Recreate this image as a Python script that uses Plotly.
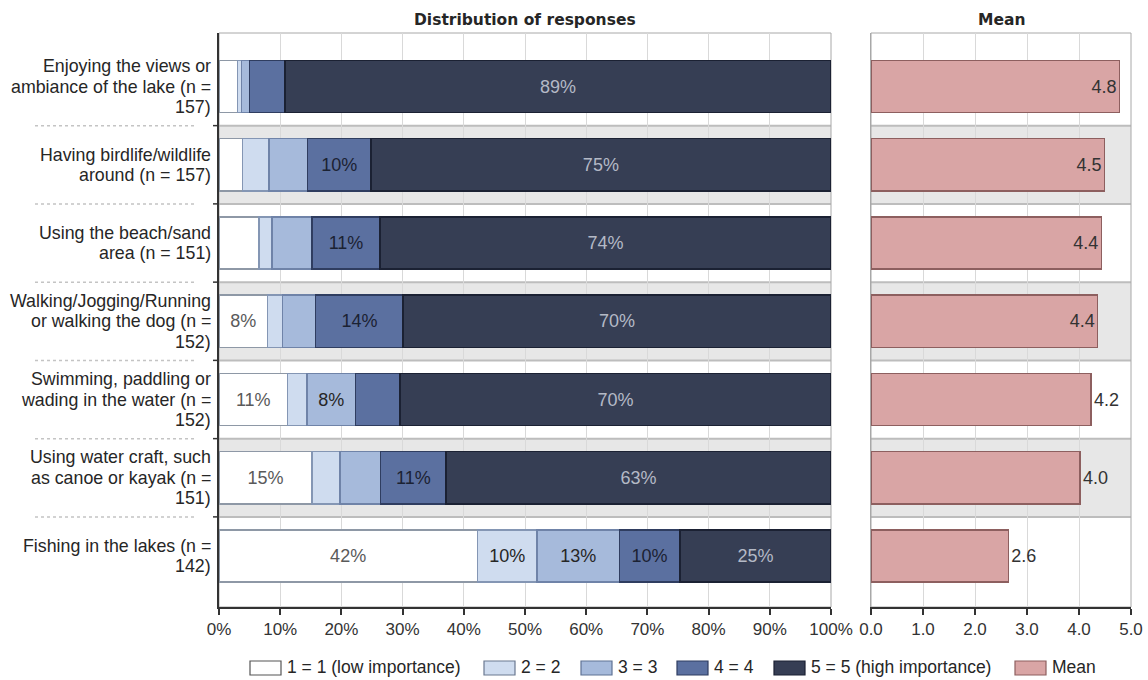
import plotly.graph_objects as go

W, H = 1148, 680

categories = [
    "Enjoying the views or<br>ambiance of the lake (n =<br>157)",
    "Having birdlife/wildlife<br>around (n = 157)",
    "Using the beach/sand<br>area (n = 151)",
    "Walking/Jogging/Running<br>or walking the dog (n =<br>152)",
    "Swimming, paddling or<br>wading in the water (n =<br>152)",
    "Using water craft, such<br>as canoe or kayak (n =<br>151)",
    "Fishing in the lakes (n =<br>142)",
]
series_names = ["1 = 1 (low importance)", "2 = 2", "3 = 3", "4 = 4", "5 = 5 (high importance)"]
resp_1 = [3.0, 3.8, 6.5, 7.9, 11.2, 15.2, 42.2]
resp_2 = [0.7, 4.4, 2.2, 2.5, 3.2, 4.6, 9.8]
resp_3 = [1.3, 6.3, 6.5, 5.4, 7.9, 6.6, 13.4]
resp_4 = [5.8, 10.3, 11.1, 14.3, 7.3, 10.7, 9.9]
resp_5 = [89.2, 75.2, 73.7, 69.9, 70.4, 62.9, 24.7]
means = [4.78, 4.49, 4.43, 4.36, 4.23, 4.02, 2.64]
pct_ticks = [0, 10, 20, 30, 40, 50, 60, 70, 80, 90, 100]
mean_ticks = [0, 1, 2, 3, 4, 5]

fills = ["#ffffff", "#cfdcef", "#a6badb", "#5b70a0", "#363e54"]
borders = ["#8e98a6", "#8496b4", "#6f83a8", "#2f3d60", "#1b2133"]
txtcols = ["#5a5a5a", "#262626", "#262626", "#1b2233", "#b4b9c6"]
mean_fill, mean_border = "#d9a5a5", "#8d5f5f"

FONT = "Liberation Sans, Arial, sans-serif"

def px(p):
    return p / W

def py(p):
    return 1 - p / H

# layout pixel geometry
L0, L1 = 219, 831
R0, R1 = 871, 1131
T, B = 33, 607
row0, rowstep = 86.5, 78.25
y_top = -(row0 - T) / rowstep
y_bot = 6 + (B - (row0 + 6 * rowstep)) / rowstep

fig = go.Figure()

all_resp = [resp_1, resp_2, resp_3, resp_4, resp_5]
for i, vals in enumerate(all_resp):
    labels = [f"{round(v)}%" if round(v) >= 8 else "" for v in vals]
    fig.add_trace(go.Bar(
        x=vals, y=categories, orientation="h", name=series_names[i],
        marker=dict(color=fills[i], line=dict(color=borders[i], width=1.5)),
        width=0.665, text=labels, textposition="inside", insidetextanchor="middle",
        textangle=0, textfont=dict(family=FONT, size=18, color=txtcols[i]),
        xaxis="x", yaxis="y", hoverinfo="x+name",
    ))

fig.add_trace(go.Bar(
    x=means, y=categories, orientation="h", name="Mean",
    marker=dict(color=mean_fill, line=dict(color=mean_border, width=1.5)),
    width=0.665, texttemplate="%{x:.1f}",
    textposition=["inside" if m > 4.3 else "outside" for m in means],
    insidetextanchor="end", textangle=0, cliponaxis=False,
    textfont=dict(family=FONT, size=18, color="#333333"),
    xaxis="x2", yaxis="y2",
))

shapes = []
annotations = []

# alternating gray bands
for i in range(len(categories)):
    if i % 2 == 1:
        for xr in ["x domain", "x2 domain"]:
            yr = "y" if xr == "x domain" else "y2"
            shapes.append(dict(type="rect", xref=xr, yref=yr, x0=0, x1=1,
                               y0=i - 0.5, y1=i + 0.5, fillcolor="#e7e7e7",
                               line=dict(width=0), layer="below"))
            for yy in (i - 0.5, i + 0.5):
                shapes.append(dict(type="line", xref=xr, yref=yr, x0=0, x1=1,
                                   y0=yy, y1=yy, line=dict(color="#bdbdbd", width=2),
                                   layer="below"))

# plot frames (gray)
for xr, yr in [("x domain", "y domain"), ("x2 domain", "y2 domain")]:
    shapes.append(dict(type="rect", xref=xr, yref=yr, x0=0, x1=1, y0=0, y1=1,
                       line=dict(color="#a8a8a8", width=1), layer="below"))

# tick marks and dotted separators between rows
for i in range(len(categories) - 1):
    b = i + 0.5
    shapes.append(dict(type="line", xref="paper", yref="y", x0=px(213), x1=px(219),
                       y0=b, y1=b, line=dict(color="#333333", width=1.5)))
    shapes.append(dict(type="line", xref="paper", yref="y", x0=px(35), x1=px(195),
                       y0=b, y1=b, line=dict(color="#c4c4c4", width=1.5, dash="dot")))

# category labels, one annotation per line
line_gap = 20.5
for i, cat in enumerate(categories):
    lines = cat.split("<br>")
    n = len(lines)
    for j, ln in enumerate(lines):
        off = (j - (n - 1) / 2) * line_gap
        annotations.append(dict(text=ln, xref="paper", yref="y", x=px(213), y=cat,
                                xanchor="right", yanchor="middle", yshift=-off,
                                showarrow=False, align="right",
                                font=dict(family=FONT, size=17.8, color="#262626")))

# titles
title_font = dict(family="DejaVu Sans, Verdana, sans-serif", size=15.5, color="#262626")
annotations.append(dict(text="<b>Distribution of responses</b>", xref="paper", yref="paper",
                        x=px((L0 + L1) / 2), y=py(20), xanchor="center", yanchor="middle",
                        showarrow=False, font=title_font))
annotations.append(dict(text="<b>Mean</b>", xref="paper", yref="paper",
                        x=px((R0 + R1) / 2), y=py(20), xanchor="center", yanchor="middle",
                        showarrow=False, font=title_font))

# custom legend
leg_names = series_names + ["Mean"]
leg_fills = fills + [mean_fill]
leg_borders = ["#555555", "#6a7890", "#5f7294", "#2f3d60", "#1b2133", mean_border]
box_x = [250, 484, 581, 677, 774, 1015]
for k, nm in enumerate(leg_names):
    x0 = box_x[k]
    shapes.append(dict(type="rect", xref="paper", yref="paper", x0=px(x0), x1=px(x0 + 31),
                       y0=py(675), y1=py(661), fillcolor=leg_fills[k],
                       line=dict(color=leg_borders[k], width=1.2)))
    annotations.append(dict(text=nm, xref="paper", yref="paper", x=px(x0 + 35), y=py(667),
                            xanchor="left", yanchor="middle", showarrow=False,
                            font=dict(family=FONT, size=17.5, color="#262626")))

axis_common = dict(showgrid=True, gridcolor="#d9d9d9", gridwidth=1, zeroline=False,
                   showline=True, linecolor="#333333", linewidth=1.5, automargin=False,
                   ticks="outside", ticklen=6, tickcolor="#333333", tickwidth=1.5,
                   tickfont=dict(family=FONT, size=17, color="#333333"))

fig.update_layout(
    width=W, height=H,
    margin=dict(l=0, r=0, t=0, b=0, autoexpand=False),
    paper_bgcolor="white", plot_bgcolor="white",
    barmode="stack", bargap=0.3, showlegend=False,
    xaxis=dict(domain=[px(L0), px(L1)], range=[0, 100], tickmode="array",
               tickvals=pct_ticks, ticktext=[f"{t}%" for t in pct_ticks],
               anchor="y", **axis_common),
    xaxis2=dict(domain=[px(R0), px(R1)], range=[0, 5], tickmode="array",
                tickvals=mean_ticks, ticktext=[f"{t:.1f}" for t in mean_ticks],
                anchor="y2", **axis_common),
    yaxis=dict(domain=[py(B), py(T)], type="category", categoryorder="array",
               categoryarray=categories, range=[y_bot, y_top], showticklabels=False,
               showgrid=False, zeroline=False, showline=True, linecolor="#333333",
               linewidth=1.5, ticks="", anchor="x", automargin=False),
    yaxis2=dict(domain=[py(B), py(T)], type="category", categoryorder="array",
                categoryarray=categories, range=[y_bot, y_top], showticklabels=False,
                showgrid=False, zeroline=False, showline=True, linecolor="#a8a8a8",
                linewidth=1, ticks="", anchor="x2", automargin=False),
    shapes=shapes, annotations=annotations,
)

fig.write_html("out.html")
